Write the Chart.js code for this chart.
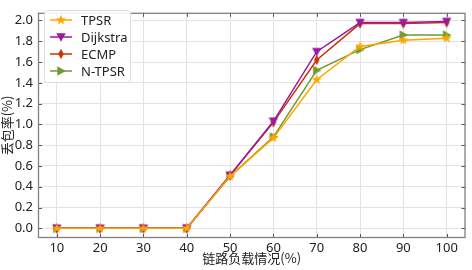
<!DOCTYPE html>
<html>
<head>
<meta charset="utf-8">
<script src="https://cdn.jsdelivr.net/npm/chart.js@4"></script>
<style>
  html, body { margin: 0; padding: 0; background: #fff; }
  #wrap { width: 472px; height: 270px; }
</style>
</head>
<body>
<div id="wrap"><canvas id="c" width="472" height="270"></canvas></div>
<script>
const loads = [10, 20, 30, 40, 50, 60, 70, 80, 90, 100];
const tpsr = [0, 0, 0, 0, 0.50, 0.87, 1.43, 1.75, 1.81, 1.83];
const dijkstra = [0, 0, 0, 0, 0.51, 1.03, 1.70, 1.98, 1.98, 1.99];
const ecmp = [0, 0, 0, 0, 0.51, 1.02, 1.62, 1.97, 1.97, 1.98];
const ntpsr = [0, 0, 0, 0, 0.50, 0.88, 1.52, 1.72, 1.86, 1.86];
const xTicks = [10, 20, 30, 40, 50, 60, 70, 80, 90, 100];
const yTicks = [0, 0.2, 0.4, 0.6, 0.8, 1.0, 1.2, 1.4, 1.6, 1.8, 2.0];

const FONT = "'Noto Sans', 'Noto Sans CJK SC', sans-serif";
const CJK = "'Noto Sans CJK SC', sans-serif";

// small marker images
function marker(kind, color) {
  const s = 12, c = document.createElement("canvas");
  c.width = s; c.height = s;
  const g = c.getContext("2d");
  g.fillStyle = color;
  g.translate(s / 2, s / 2);
  g.beginPath();
  if (kind === "star") {
    for (let i = 0; i < 10; i++) {
      const r = i % 2 ? 2.3 : 5.2;
      const a = -Math.PI / 2 + i * Math.PI / 5;
      g.lineTo(r * Math.cos(a), r * Math.sin(a));
    }
  } else if (kind === "down") {
    g.moveTo(-4.7, -3.7); g.lineTo(4.7, -3.7); g.lineTo(0, 4.7);
  } else if (kind === "thin") {
    g.moveTo(0, -5.2); g.lineTo(2.7, 0); g.lineTo(0, 5.2); g.lineTo(-2.7, 0);
  } else {
    g.moveTo(-3.7, -4.7); g.lineTo(4.7, 0); g.lineTo(-3.7, 4.7);
  }
  g.closePath();
  g.fill();
  return c;
}

const series = [
  { label: "TPSR", data: tpsr, color: "#FFA500", mk: "star" },
  { label: "Dijkstra", data: dijkstra, color: "#9A1AA0", mk: "down" },
  { label: "ECMP", data: ecmp, color: "#CC3300", mk: "thin" },
  { label: "N-TPSR", data: ntpsr, color: "#6E9A30", mk: "right" }
];
series.forEach(s => s.img = marker(s.mk, s.color));

const frame = {
  id: "frame",
  afterDraw(chart) {
    const { ctx, chartArea: a, scales } = chart;
    ctx.save();
    // inward ticks on all four sides
    ctx.strokeStyle = "#555";
    ctx.lineWidth = 1;
    ctx.beginPath();
    xTicks.forEach(v => {
      const x = Math.round(scales.x.getPixelForValue(v)) + 0.5;
      ctx.moveTo(x, a.bottom); ctx.lineTo(x, a.bottom - 4);
      ctx.moveTo(x, a.top); ctx.lineTo(x, a.top + 4);
    });
    yTicks.forEach(v => {
      const y = Math.round(scales.y.getPixelForValue(v)) + 0.5;
      ctx.moveTo(a.left, y); ctx.lineTo(a.left + 4, y);
      ctx.moveTo(a.right, y); ctx.lineTo(a.right - 4, y);
    });
    ctx.stroke();
    ctx.strokeStyle = "#808080";
    ctx.lineWidth = 1.3;
    ctx.strokeRect(a.left + 0.5, a.top + 0.5, a.right - a.left - 1, a.bottom - a.top - 1);

    // axis titles
    ctx.fillStyle = "#222";
    ctx.font = "13px " + CJK;
    ctx.textAlign = "center";
    ctx.textBaseline = "middle";
    ctx.fillText("链路负载情况(%)", (a.left + a.right) / 2, 258);
    ctx.translate(7, (a.top + a.bottom) / 2);
    ctx.rotate(-Math.PI / 2);
    ctx.fillText("丢包率(%)", 0, 0);
    ctx.restore();

    // legend
    ctx.save();
    const lx = 44, ly = 10, lw = 86, lh = 72;
    ctx.fillStyle = "rgba(255,255,255,0.9)";
    ctx.strokeStyle = "#ddd";
    ctx.lineWidth = 1;
    ctx.beginPath();
    ctx.roundRect(lx + 0.5, ly + 0.5, lw, lh, 3);
    ctx.fill();
    ctx.stroke();
    ctx.font = "13px " + FONT;
    ctx.textBaseline = "middle";
    ctx.textAlign = "left";
    series.forEach((s, i) => {
      const y = ly + 10 + i * 17;
      ctx.strokeStyle = s.color;
      ctx.lineWidth = 1.5;
      ctx.beginPath();
      ctx.moveTo(lx + 6, y); ctx.lineTo(lx + 28, y);
      ctx.stroke();
      ctx.drawImage(s.img, lx + 17 - 6, y - 6);
      ctx.fillStyle = "#222";
      ctx.fillText(s.label, lx + 37, y + 1);
    });
    ctx.restore();
  }
};

new Chart(document.getElementById("c"), {
  type: "line",
  data: {
    datasets: series.map(s => ({
      label: s.label,
      data: loads.map((x, i) => ({ x, y: s.data[i] })),
      borderColor: s.color,
      backgroundColor: s.color,
      borderWidth: 1.5,
      pointStyle: s.img,
      pointRadius: 5,
      tension: 0
    }))
  },
  options: {
    responsive: false,
    animation: false,
    layout: { padding: { top: 4, right: 3, left: 0, bottom: 0 } },
    plugins: { legend: { display: false }, tooltip: { enabled: false } },
    scales: {
      x: {
        type: "linear",
        min: 5.65,
        max: 104.35,
        afterBuildTicks: s => { s.ticks = xTicks.map(v => ({ value: v })); },
        afterFit: s => { s.height = 32; },
        grid: { color: "#e3e3e3", drawTicks: false },
        border: { display: false },
        ticks: { padding: 2, color: "#222", font: { family: FONT, size: 13 }, maxRotation: 0 }
      },
      y: {
        min: -0.093,
        max: 2.074,
        afterBuildTicks: s => { s.ticks = yTicks.map(v => ({ value: v })); },
        afterFit: s => { s.width = 38; },
        grid: { color: "#e3e3e3", drawTicks: false },
        border: { display: false },
        ticks: {
          padding: 5, color: "#222", font: { family: FONT, size: 13 },
          callback: v => v.toFixed(1)
        }
      }
    }
  },
  plugins: [frame]
});
</script>
</body>
</html>
